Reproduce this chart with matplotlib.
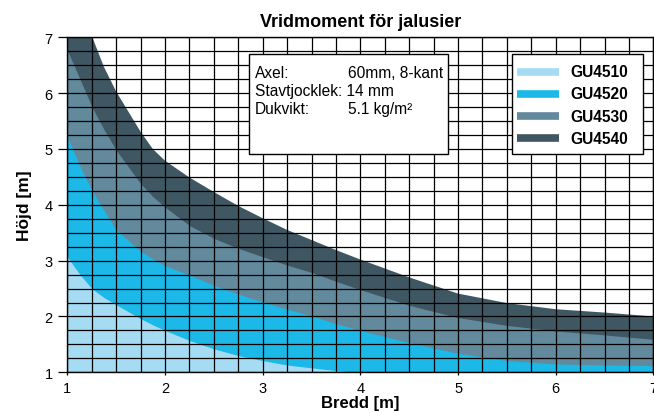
import matplotlib
matplotlib.use("Agg")
import matplotlib.pyplot as plt
from matplotlib.patches import Rectangle

plt.rcParams["font.family"] = ["Liberation Sans", "DejaVu Sans"]

# Data
bredd = [1, 1.125, 1.25, 1.375, 1.5, 1.75, 1.875, 2, 2.25, 2.5, 2.75, 3, 3.25, 3.5,
         3.75, 4, 4.5, 5, 5.5, 6, 6.5, 7]
gu4540 = [8.0, 7.5, 7.03, 6.47, 6.03, 5.31, 5.0, 4.79, 4.49, 4.23, 3.98, 3.76, 3.55,
          3.37, 3.19, 3.02, 2.70, 2.41, 2.24, 2.13, 2.07, 2.0]
gu4530 = [6.77, 6.27, 5.76, 5.35, 4.98, 4.38, 4.15, 3.96, 3.63, 3.40, 3.22, 3.07, 2.92,
          2.79, 2.63, 2.48, 2.2, 1.98, 1.84, 1.74, 1.67, 1.59]
gu4520 = [5.22, 4.71, 4.26, 3.90, 3.55, 3.17, 3.03, 2.91, 2.74, 2.56, 2.40, 2.26, 2.13,
          2.01, 1.87, 1.75, 1.53, 1.34, 1.21, 1.15, 1.13, 1.12]
gu4510 = [3.07, 2.76, 2.50, 2.34, 2.21, 1.96, 1.85, 1.75, 1.57, 1.42, 1.30, 1.21, 1.13,
          1.08, 1.03, 1.0, 0.96, 0.93, 0.9, 0.88, 0.86, 0.85]

series = [
    ("GU4540", gu4540, "#3f5762"),
    ("GU4530", gu4530, "#628a9c"),
    ("GU4520", gu4520, "#1cb9e8"),
    ("GU4510", gu4510, "#a6dcf3"),
]

x_ticks = [1, 2, 3, 4, 5, 6, 7]
y_ticks = [1, 2, 3, 4, 5, 6, 7]

info_keys = ["Axel:", "Stavtjocklek: 14 mm", "Dukvikt:"]
info_vals = ["60mm, 8-kant", "", "5.1 kg/m\u00b2"]

fig = plt.figure(figsize=(6.54, 4.14), dpi=100)
ax = fig.add_axes([0.1029, 0.0983, 0.8962, 0.8092])

# Fill the areas, largest first
for name, vals, color in series:
    ax.fill_between(bredd, 0, vals, color=color, lw=0, zorder=1)

ax.set_xlim(1, 7)
ax.set_ylim(1, 7)
ax.set_xticks(x_ticks)
ax.set_yticks(y_ticks)
ax.set_xticks([1 + 0.25 * i for i in range(25)], minor=True)
ax.set_yticks([1 + 0.25 * i for i in range(25)], minor=True)
ax.set_axisbelow(False)
ax.grid(which="both", color="black", lw=0.9)
ax.tick_params(which="minor", length=0)
ax.tick_params(axis="x", which="major", length=2.5, width=0.9, pad=4, labelsize=10.5)
ax.tick_params(axis="y", which="major", length=6.5, width=0.9, pad=4, labelsize=10.5)
for sp in ax.spines.values():
    sp.set_linewidth(1.0)
    sp.set_zorder(3)

ax.set_title("Vridmoment f\u00f6r jalusier", fontsize=13, fontweight="bold", pad=8)
ax.set_xlabel("Bredd [m]", fontsize=12, fontweight="bold", labelpad=0)
ax.set_ylabel("H\u00f6jd [m]", fontsize=12.5, fontweight="bold", labelpad=9)

# Info box
ax.add_patch(Rectangle((0.3105, 0.652), 0.3386, 0.298, transform=ax.transAxes,
                       facecolor="white", edgecolor="black", lw=1.0, zorder=5))
for i, (k, v) in enumerate(zip(info_keys, info_vals)):
    yy = 0.896 - i * 0.0537
    ax.text(0.3203, yy, k, transform=ax.transAxes, fontsize=11.2,
            va="center", ha="left", zorder=6)
    if v:
        ax.text(0.4794, yy, v, transform=ax.transAxes, fontsize=11.2,
                va="center", ha="left", zorder=6)

# Legend box
ax.add_patch(Rectangle((0.7582, 0.652), 0.2246, 0.298, transform=ax.transAxes,
                       facecolor="white", edgecolor="black", lw=1.0, zorder=5))
for i, (name, vals, color) in enumerate(reversed(series)):
    yy = 0.8973 - i * 0.0663
    ax.plot([0.7668, 0.8389], [yy, yy], color=color, lw=5.5,
            transform=ax.transAxes, zorder=6, solid_capstyle="butt")
    ax.text(0.8577, yy, name, transform=ax.transAxes, fontsize=11.2,
            fontweight="bold", va="center", ha="left", zorder=6)

fig.savefig("out.png", dpi=100)
